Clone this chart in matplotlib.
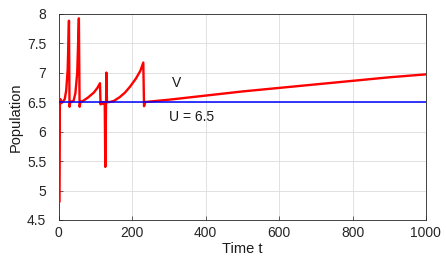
import matplotlib
matplotlib.use("Agg")
import matplotlib.pyplot as plt

# Data
t_vals = [0, 0.8, 2.5, 4, 6, 10, 16, 20, 24, 27.5, 29, 31, 40, 45, 50, 54.5, 56.5, 58.5,
          66, 80, 95, 105, 112, 113.5, 116, 119, 122, 125, 126.5, 129.5, 131, 138,
          150, 165, 180, 195, 210, 222, 230, 232, 235, 250, 300, 400, 500, 600, 700,
          800, 900, 1000]
v_vals = [6.92, 4.8, 6.5, 6.55, 6.48, 6.5, 6.55, 6.7, 7.05, 7.88, 6.42, 6.5, 6.52, 6.65,
          7.0, 7.92, 6.42, 6.5, 6.52, 6.58, 6.66, 6.74, 6.82, 6.46, 6.5, 6.47, 6.5, 6.45,
          5.4, 7.0, 6.5, 6.5, 6.52, 6.58, 6.66, 6.77, 6.9, 7.03, 7.17, 6.43, 6.5, 6.51,
          6.54, 6.61, 6.68, 6.74, 6.80, 6.86, 6.92, 6.97]
U_level = 6.5
x_ticks = [0, 200, 400, 600, 800, 1000]
y_ticks = [4.5, 5, 5.5, 6, 6.5, 7, 7.5, 8]
y_ticklabels = ["4.5", "5", "5.5", "6", "6.5", "7", "7.5", "8"]

plt.rcParams['font.family'] = ['Liberation Sans', 'DejaVu Sans']

fig = plt.figure(figsize=(4.46, 2.57), dpi=100)
ax = fig.add_axes([0.132, 0.144, 0.823, 0.803])

ax.plot(t_vals, v_vals, color='#ff0000', lw=1.7, zorder=3)
ax.axhline(U_level, color='#0000ff', lw=1.1, zorder=4)

ax.set_xlim(0, 1000)
ax.set_ylim(4.5, 8)
ax.set_xticks(x_ticks)
ax.set_yticks(y_ticks)
ax.set_yticklabels(y_ticklabels)
ax.grid(True, color='#dcdcdc', lw=0.6)
ax.set_axisbelow(True)
for s in ax.spines.values():
    s.set_color('#262626')
    s.set_linewidth(0.6)
ax.tick_params(direction='in', length=3, width=0.5, labelsize=10, colors='#262626')
ax.tick_params(axis='y', pad=9)
ax.tick_params(axis='x', pad=4)

ax.text(308, 6.83, "V", fontsize=10, ha='left', va='center', color='#1a1a1a')
ax.text(300, 6.24, "U = 6.5", fontsize=10, ha='left', va='center', color='#1a1a1a')

ax.set_xlabel("Time t", fontsize=10.5, labelpad=2, color='#1a1a1a')
ax.set_ylabel("Population", fontsize=10.5, labelpad=3, color='#1a1a1a')

fig.savefig("out.png", dpi=100)
